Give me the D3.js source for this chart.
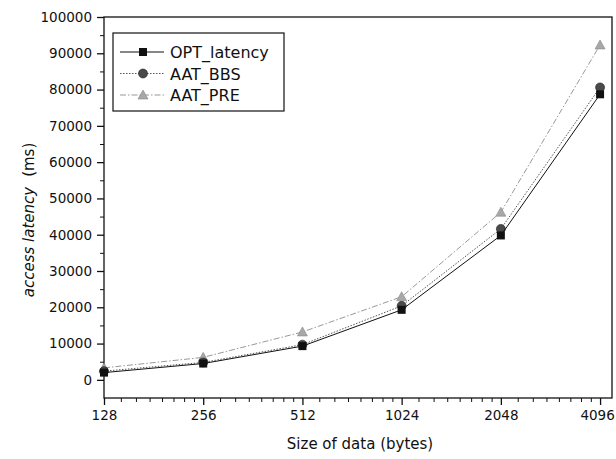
<!DOCTYPE html>
<html>
<head>
<meta charset="utf-8">
<script src="https://cdn.jsdelivr.net/npm/d3@7"></script>
<style>
  body { margin: 0; background: #fff; }
  text { font-family: "DejaVu Sans", Arial, sans-serif; fill: #111; }
</style>
</head>
<body>
<div id="container"></div>
<script>
// data
var sizes = [128, 256, 512, 1024, 2048, 4096];
var optLatency = [2000, 4500, 9300, 19300, 39800, 78700];
var aatBBS     = [2400, 4800, 9700, 20400, 41600, 80600];
var aatPRE     = [3300, 6200, 13200, 22900, 46200, 92300];
var yTicks = [0, 10000, 20000, 30000, 40000, 50000, 60000, 70000, 80000, 90000, 100000];

var series = [
    {name: "OPT_latency", values: optLatency, marker: "square",   fill: "#111", stroke: "#111", dash: null},
    {name: "AAT_BBS",     values: aatBBS,     marker: "circle",   fill: "#4a4a4a", stroke: "#555", dash: "1.5,1.5"},
    {name: "AAT_PRE",     values: aatPRE,     marker: "triangle", fill: "#a8a8a8", stroke: "#999", dash: "6,2,1.5,2"}
];

var width = 616, height = 459;
// plot frame edges
var frame = {left: 104, right: 612, top: 17, bottom: 398};

var svg = d3.select("#container")
    .append("svg")
        .attr("width", width)
        .attr("height", height);

var x = d3.scaleLog().base(2)
    .domain([128, 4452])
    .range([frame.left, frame.right]);
var y = d3.scaleLinear()
    .domain([-5000, 100000])
    .range([frame.bottom, frame.top]);

// frame
svg.append("rect")
    .attr("x", frame.left).attr("y", frame.top)
    .attr("width", frame.right - frame.left).attr("height", frame.bottom - frame.top)
    .attr("fill", "none").attr("stroke", "#111").attr("stroke-width", 1.3);

// x axis: major ticks on powers of two, minor ticks in between
var xMinor = [];
sizes.forEach(function(s) {
    for (var k = 1; k < 8; k++) {
        var v = s * (1 + k / 8);
        if (v < 4452) xMinor.push(v);
    }
});
var xAxis = svg.append("g")
    .attr("transform", "translate(0," + frame.bottom + ")")
    .call(d3.axisBottom(x).tickValues(sizes).tickFormat(d3.format("d")).tickSize(7).tickPadding(5));
xAxis.select(".domain").remove();
xAxis.selectAll("text").attr("font-size", "13.5px").attr("fill", "#111").attr("font-family", "DejaVu Sans");
xAxis.selectAll("line").attr("stroke", "#111").attr("stroke-width", 1.3);
// last label sits against the page edge
xAxis.selectAll("text").filter(function(d) { return d == 4096; }).attr("dx", -3);
svg.append("g")
    .attr("transform", "translate(0," + frame.bottom + ")")
    .call(d3.axisBottom(x).tickValues(xMinor).tickFormat("").tickSize(4))
    .call(function(g) { g.select(".domain").remove(); })
    .selectAll("line").attr("stroke", "#111");

// y axis
var yMinor = d3.range(-5000, 100000, 10000);
var yAxis = svg.append("g")
    .attr("transform", "translate(" + frame.left + ",0)")
    .call(d3.axisLeft(y).tickValues(yTicks).tickFormat(d3.format("d")).tickSize(7).tickPadding(5));
yAxis.select(".domain").remove();
yAxis.selectAll("text").attr("font-size", "13.5px").attr("fill", "#111").attr("font-family", "DejaVu Sans");
yAxis.selectAll("line").attr("stroke", "#111").attr("stroke-width", 1.3);
svg.append("g")
    .attr("transform", "translate(" + frame.left + ",0)")
    .call(d3.axisLeft(y).tickValues(yMinor.slice(1)).tickFormat("").tickSize(4))
    .call(function(g) { g.select(".domain").remove(); })
    .selectAll("line").attr("stroke", "#111");

// axis titles
svg.append("text")
    .attr("x", 360).attr("y", 449)
    .attr("text-anchor", "middle")
    .attr("font-size", "15px")
    .text("Size of data (bytes)");

var yTitle = svg.append("text")
    .attr("transform", "translate(34,220) rotate(-90)")
    .attr("text-anchor", "middle")
    .attr("font-size", "15px");
yTitle.append("tspan").attr("font-style", "italic").text("access latency");
yTitle.append("tspan").attr("dx", 10).text("(ms)");

// markers
function drawMarker(g, type, cx, cy, s) {
    if (type == "square") {
        g.append("rect")
            .attr("x", cx - 4).attr("y", cy - 4)
            .attr("width", 8).attr("height", 8)
            .attr("fill", s.fill);
    } else if (type == "circle") {
        g.append("circle")
            .attr("cx", cx).attr("cy", cy).attr("r", 4.5)
            .attr("fill", s.fill).attr("stroke", "#222").attr("stroke-width", 0.6);
    } else {
        g.append("path")
            .attr("d", "M" + cx + "," + (cy - 5) + "L" + (cx + 5) + "," + (cy + 4) + "L" + (cx - 5) + "," + (cy + 4) + "Z")
            .attr("fill", s.fill).attr("stroke", "#888").attr("stroke-width", 0.6);
    }
}

var line = d3.line()
    .x(function(d, i) { return x(sizes[i]); })
    .y(function(d) { return y(d); });

// draw PRE first so the darker ones sit on top
series.slice().reverse().forEach(function(s) {
    svg.append("path")
        .datum(s.values)
        .attr("d", line)
        .attr("fill", "none")
        .attr("stroke", s.stroke)
        .attr("stroke-width", 1)
        .attr("stroke-dasharray", s.dash);
    var g = svg.append("g");
    s.values.forEach(function(v, i) {
        drawMarker(g, s.marker, x(sizes[i]), y(v), s);
    });
});

// legend
var lg = svg.append("g");
lg.append("rect")
    .attr("x", 113).attr("y", 33)
    .attr("width", 171).attr("height", 78)
    .attr("fill", "#fff").attr("stroke", "#111").attr("stroke-width", 1.2);
series.forEach(function(s, i) {
    var ly = 52 + i * 21.5;
    lg.append("line")
        .attr("x1", 120).attr("x2", 164)
        .attr("y1", ly).attr("y2", ly)
        .attr("stroke", s.stroke)
        .attr("stroke-dasharray", s.dash);
    drawMarker(lg, s.marker, 143, ly, s);
    lg.append("text")
        .attr("x", 170).attr("y", ly + 6)
        .attr("font-size", "16px")
        .text(s.name);
});
</script>
</body>
</html>
